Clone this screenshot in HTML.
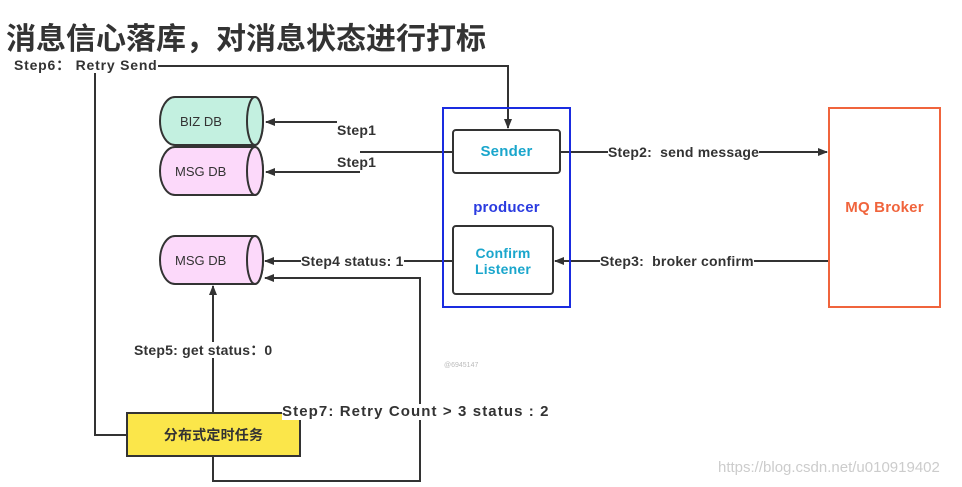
<!DOCTYPE html>
<html><head><meta charset="utf-8"><style>
body{margin:0;width:962px;height:487px;background:#fff;overflow:hidden;position:relative;font-family:"Liberation Sans","Noto Sans CJK SC",sans-serif}
.t{position:absolute;font-weight:bold;color:#333;font-size:14px;white-space:nowrap;background:#fff;line-height:16px;letter-spacing:0.2px}
</style></head><body>
<div style="position:absolute;left:6px;top:14px;font-size:30px;font-weight:bold;color:#333;font-family:'Liberation Sans','Noto Sans CJK SC',sans-serif">消息信心落库，对消息状态进行打标</div>
<svg width="962" height="487" style="position:absolute;left:0;top:0">
<defs><marker id="a" markerWidth="10" markerHeight="8" refX="9" refY="4" orient="auto" markerUnits="userSpaceOnUse"><path d="M0,0L10,4L0,8Z" fill="#333"/></marker></defs>
<g stroke="#333" stroke-width="2" fill="none">
<path d="M127,435H95V66H508V128" marker-end="url(#a)"/>
<path d="M337,122H266" marker-end="url(#a)"/>
<path d="M453,152H360M360,172H266" marker-end="url(#a)"/>
<path d="M560,152H827" marker-end="url(#a)"/>
<path d="M829,261H555" marker-end="url(#a)"/>
<path d="M453,261H265" marker-end="url(#a)"/>
<path d="M213,413V286" marker-end="url(#a)"/>
<path d="M213,456V481H420V278H265" marker-end="url(#a)"/>
</g>
<g stroke="#333" stroke-width="2">
<path d="M175,97H255A8,24 0 0 1 255,145H175A15,24 0 0 1 175,97Z" fill="#c3f0e0"/>
<ellipse cx="255" cy="121" rx="8" ry="24" fill="#c3f0e0"/>
<path d="M175,147H255A8,24 0 0 1 255,195H175A15,24 0 0 1 175,147Z" fill="#fcd9fa"/>
<ellipse cx="255" cy="171" rx="8" ry="24" fill="#fcd9fa"/>
<path d="M175,236H255A8,24 0 0 1 255,284H175A15,24 0 0 1 175,236Z" fill="#fcd9fa"/>
<ellipse cx="255" cy="260" rx="8" ry="24" fill="#fcd9fa"/>
</g>
<rect x="443" y="108" width="127" height="199" fill="none" stroke="#1a2ce0" stroke-width="2"/>
<rect x="453" y="130" width="107" height="43" rx="3" fill="#fff" stroke="#333" stroke-width="2"/>
<rect x="453" y="226" width="100" height="68" rx="3" fill="#fff" stroke="#333" stroke-width="2"/>
<rect x="829" y="108" width="111" height="199" fill="#fff" stroke="#f0643c" stroke-width="2"/>
<rect x="127" y="413" width="173" height="43" fill="#fbe64a" stroke="#333" stroke-width="2"/>
</svg>
<div class="t" style="left:180px;top:114px;font-weight:normal;background:none;font-size:13px;letter-spacing:0">BIZ DB</div>
<div class="t" style="left:175px;top:164px;font-weight:normal;background:none;font-size:13px;letter-spacing:0">MSG DB</div>
<div class="t" style="left:175px;top:253px;font-weight:normal;background:none;font-size:13px;letter-spacing:0">MSG DB</div>
<div class="t" style="left:14px;top:57px;letter-spacing:0.8px">Step6：&nbsp;Retry Send</div>
<div class="t" style="left:337px;top:122px">Step1</div>
<div class="t" style="left:337px;top:154px">Step1</div>
<div class="t" style="left:453px;width:107px;text-align:center;top:144px;color:#1aa6cc;font-size:15px;background:none">Sender</div>
<div class="t" style="left:443px;width:127px;text-align:center;top:200px;color:#2a3be0;font-size:15px;background:none">producer</div>
<div class="t" style="left:453px;width:100px;top:245px;color:#1aa6cc;text-align:center;background:none">Confirm<br>Listener</div>
<div class="t" style="left:608px;top:144px">Step2:&nbsp; send message</div>
<div class="t" style="left:600px;top:253px">Step3:&nbsp; broker confirm</div>
<div class="t" style="left:301px;top:253px">Step4 status: 1</div>
<div class="t" style="left:829px;width:111px;text-align:center;top:200px;color:#f0643c;font-size:15px;background:none">MQ Broker</div>
<div class="t" style="left:134px;top:342px">Step5: get status：0</div>
<div class="t" style="left:282px;top:404px;font-size:15px;letter-spacing:1.1px">Step7: Retry Count &gt; 3 status : 2</div>
<div class="t" style="left:127px;width:173px;text-align:center;top:427px;background:none">分布式定时任务</div>
<div style="position:absolute;left:444px;top:362px;font-size:7px;color:#bbb">@6945147</div>
<div style="position:absolute;left:718px;top:459px;font-size:15px;color:#ccc">https://blog.csdn.net/u010919402</div>
</body></html>
